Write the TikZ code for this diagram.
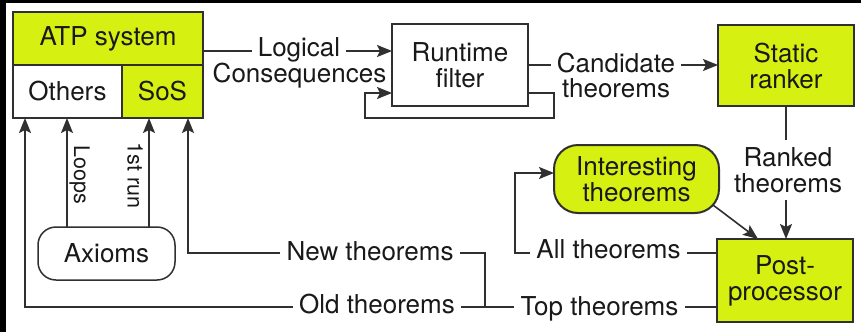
\documentclass[tikz,border=0pt]{standalone}
\usepackage{fontspec}
\setmainfont{TeX Gyre Heros}
\usetikzlibrary{arrows.meta,calc}
\definecolor{lime}{RGB}{214,240,18}
\definecolor{ink}{RGB}{48,48,48}
\definecolor{txt}{RGB}{25,25,25}
\begin{document}
\begin{tikzpicture}[x=1pt,y=-1pt,
  box/.style={draw=ink, line width=2pt, text=txt, align=center, inner sep=0pt, outer sep=0pt, font=\fontsize{26}{26}\selectfont},
  lbl/.style={text=txt, inner xsep=6pt, inner ysep=0pt, font=\fontsize{26}{26}\selectfont},
  smalllbl/.style={text=txt, inner sep=0pt, font=\fontsize{21.5}{21.5}\selectfont},
  line/.style={draw=ink, line width=1.6pt},
  arrow/.style={line, -{Stealth[length=15pt,width=12pt,inset=3pt]}}]
\fill[white] (0,0) rectangle (861,332);
\fill[black] (0,0) rectangle (861,3);
\fill[black] (0,0) rectangle (6,332);
\useasboundingbox (0,0) rectangle (861,332);

% boxes
\node[box, fill=lime, minimum width=190pt, minimum height=53pt] (atp) at (108,38.5) {ATP system};
\node[box, minimum width=109pt, minimum height=53pt] (others) at (67.5,91.5) {Others};
\node[box, fill=lime, minimum width=81pt, minimum height=53pt] (sos) at (162.5,91.5) {SoS};
\node[box, minimum width=136pt, minimum height=82pt] (filter) at (460,65) {Runtime\\filter};
\node[box, fill=lime, minimum width=136pt, minimum height=81pt] (ranker) at (786,65.5) {Static\\ranker};
\node[box, fill=lime, minimum width=136pt, minimum height=83pt] (post) at (785,280.5) {Post-\\processor};
\node[box, fill=lime, rounded corners=24pt, minimum width=165pt, minimum height=68pt] (interesting) at (636.5,179) {Interesting\\theorems};
\node[box, line width=1.5pt, rounded corners=18pt, minimum width=137pt, minimum height=53pt] (axioms) at (106.5,253.5) {Axioms};

% labels
\node[lbl, anchor=base] (logical) at (299,56) {Logical};
\node[lbl, anchor=base] (conseq) at (299.5,82) {Consequences};
\node[lbl, anchor=base] (cand) at (616,72) {Candidate};
\node[lbl, anchor=base] (candth) at (616,97) {theorems};
\node[lbl, align=center, inner ysep=7pt] (ranked) at (788,170) {Ranked\\theorems};
\node[lbl, anchor=base] (newth) at (370,260) {New theorems};
\node[lbl, anchor=base] (oldth) at (377,313) {Old theorems};
\node[lbl, anchor=base] (topth) at (599.5,315) {Top theorems};
\node[lbl, anchor=base] (allth) at (608.5,258) {All theorems};
\node[smalllbl, rotate=-90, anchor=base] (loops) at (74,175) {Loops};
\node[smalllbl, rotate=-90, anchor=base] (first) at (127.5,175.5) {1st run};

% helper coordinates
\coordinate (rowA) at (0,51);
\coordinate (rowLoop) at (0,93);
\coordinate (loopR) at (554,118);
\coordinate (loopL) at (365,118);
\coordinate (rowC) at (0,65);
\coordinate (rowN) at (0,253);
\coordinate (rowB) at (0,307);
\coordinate (junc) at (485,307);
\coordinate (allturn) at (515,173);
\coordinate (xL) at ($(others.south west)+(54,0)$);
\coordinate (x1) at ($(sos.south west)+(27,0)$);

% connectors
\draw[line] (atp.east |- rowA) -- (logical.west |- rowA);
\draw[arrow] (logical.east |- rowA) -- (filter.west |- rowA);
\draw[arrow] (filter.east |- rowLoop) -| (loopR) -- (loopL) |- (filter.west |- rowLoop);
\draw[line] (filter.east |- rowC) -- (cand.west |- rowC);
\draw[arrow] (cand.east |- rowC) -- (ranker.west |- rowC);
\draw[line] (ranker.south) -- (ranker.south |- ranked.north);
\draw[arrow] (ranker.south |- ranked.south) -- (ranker.south |- post.north);
\draw[arrow] ($(interesting.south east)+(-6,-8)$) -- ($(post.north west)+(41,0)$);
\draw[line] (post.west |- rowN) -- (allth.east |- rowN);
\draw[arrow] (allth.west |- rowN) -| (allturn) -- (interesting.west |- allturn);
\draw[line] (post.west |- rowB) -- (topth.east |- rowB);
\draw[line] (topth.west |- rowB) -- (junc);
\draw[line] (junc) -- (oldth.east |- rowB);
\draw[line] (newth.east |- rowN) -| (junc);
\draw[arrow] (newth.west |- rowN) -| ($(sos.south east)+(-15,0)$);
\draw[arrow] (oldth.west |- rowB) -| ($(others.south west)+(12,0)$);
\draw[arrow] (axioms.north -| xL) -- (others.south -| xL);
\draw[arrow] (axioms.north -| x1) -- (sos.south -| x1);
\end{tikzpicture}
\end{document}
